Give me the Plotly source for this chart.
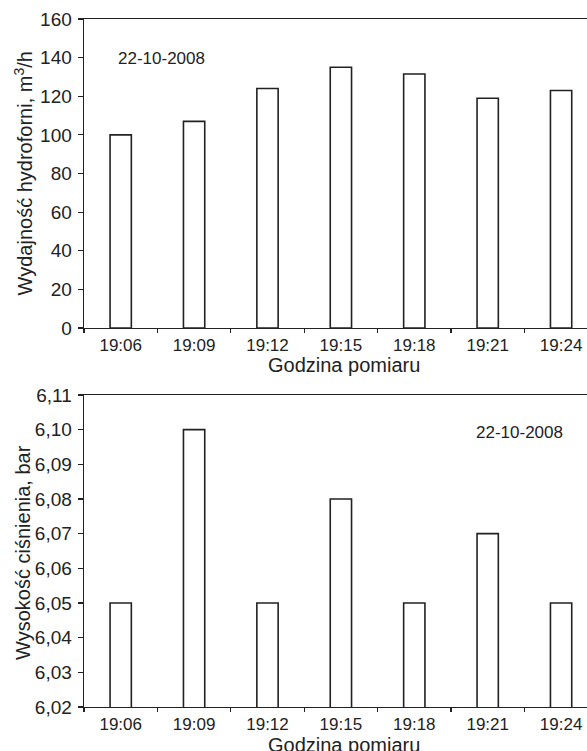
import plotly.graph_objects as go
from plotly.subplots import make_subplots

times = ["19:06", "19:09", "19:12", "19:15", "19:18", "19:21", "19:24"]
flow = [100, 107, 124, 135, 131.5, 119, 123]
pressure = [6.05, 6.10, 6.05, 6.08, 6.05, 6.07, 6.05]
flow_ticks = [0, 20, 40, 60, 80, 100, 120, 140, 160]
pressure_ticks = [6.02, 6.03, 6.04, 6.05, 6.06, 6.07, 6.08, 6.09, 6.10, 6.11]
date_label = "22-10-2008"

W, H = 587, 751
L = 84
INK = "#222222"
FONT = "Liberation Sans, Arial, Helvetica, sans-serif"

fig = make_subplots(rows=2, cols=1)

bar_style = dict(marker=dict(color="white", line=dict(color=INK, width=1.6)),
                 width=0.29, showlegend=False, hoverinfo="skip")
fig.add_trace(go.Bar(x=times, y=flow, **bar_style), row=1, col=1)
fig.add_trace(go.Bar(x=times, y=pressure, **bar_style), row=2, col=1)

def py(px):
    return 1 - px / H

xcommon = dict(type="category", range=[-0.5, 6.353], showline=True, linecolor=INK,
               linewidth=1.4, mirror=True, ticks="outside", tickson="boundaries",
               ticklen=4, tickwidth=1.2, tickcolor=INK, showgrid=False, zeroline=False,
               tickfont=dict(size=17, color=INK, family=FONT), domain=[0, 1],
               automargin=False, ticklabelstandoff=1)
ycommon = dict(showline=True, linecolor=INK, linewidth=1.4, mirror=False,
               ticks="outside", ticklen=5, tickwidth=1.2, tickcolor=INK,
               showgrid=False, zeroline=False, automargin=False,
               tickfont=dict(size=19, color=INK, family=FONT), ticklabelstandoff=2)

fig.update_xaxes(**xcommon, row=1, col=1)
fig.update_xaxes(**xcommon, row=2, col=1)
fig.update_yaxes(**ycommon, range=[0, 160], tickvals=flow_ticks,
                 domain=[py(328), py(19)], row=1, col=1)
fig.update_yaxes(**ycommon, range=[6.02, 6.11], tickvals=pressure_ticks,
                 tickformat=".2f", domain=[py(707), py(395)], row=2, col=1)

def px_x(x):
    return (x - L) / (W - L)

ann_font = dict(size=20, color=INK, family=FONT)
annotations = [
    dict(text="Wydajność hydroforni, m<sup>3</sup>/h", x=px_x(23), y=py(173.5),
         textangle=-90, font=ann_font),
    dict(text="Godzina pomiaru", x=px_x(343.7), y=py(365), font=ann_font),
    dict(text="Wysokość ciśnienia, bar", x=px_x(23), y=py(553),
         textangle=-90, font=ann_font),
    dict(text="Godzina pomiaru", x=px_x(343.7), y=py(745), font=ann_font),
    dict(text=date_label, x=px_x(161.7), y=py(58), font=dict(size=17, color=INK, family=FONT)),
    dict(text=date_label, x=px_x(519.5), y=py(432), font=dict(size=17, color=INK, family=FONT)),
]
for a in annotations:
    a.update(xref="paper", yref="paper", showarrow=False, xanchor="center", yanchor="middle")

fig.update_layout(
    width=W, height=H,
    margin=dict(l=L, r=0, t=0, b=0, autoexpand=False),
    paper_bgcolor="white", plot_bgcolor="white",
    separators=",.",
    font=dict(family=FONT, color=INK),
    annotations=annotations,
    showlegend=False,
)

fig.write_html("out.html", config={"displayModeBar": False, "staticPlot": True})

with open("out.html", "r", encoding="utf-8") as f:
    html = f.read()
html = html.replace("<head>", "<head><style>html,body{margin:0;padding:0;overflow:hidden;}</style>", 1)
with open("out.html", "w", encoding="utf-8") as f:
    f.write(html)
